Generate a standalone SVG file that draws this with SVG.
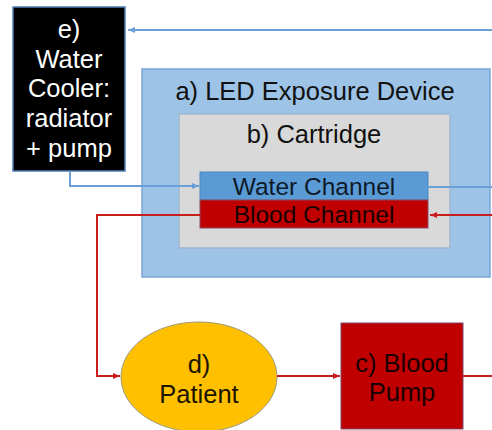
<svg xmlns="http://www.w3.org/2000/svg" width="492" height="430" viewBox="0 0 492 430">
<defs>
<style>
text{font-family:"Liberation Sans",Arial,sans-serif;text-anchor:middle}
.bl{stroke:#6a9fd8;stroke-width:2;fill:none}
.rd{stroke:#c81e1e;stroke-width:2;fill:none}
</style>
<marker id="ab" markerWidth="8" markerHeight="8" refX="7" refY="4" orient="auto" markerUnits="userSpaceOnUse"><path d="M0,1 L7,4 L0,7 z" fill="#6a9fd8"/></marker>
<marker id="ar" markerWidth="8" markerHeight="8" refX="7" refY="4" orient="auto" markerUnits="userSpaceOnUse"><path d="M0,1 L7,4 L0,7 z" fill="#c81e1e"/></marker>
</defs>
<rect width="492" height="430" fill="#fff"/>
<g id="led">
<rect x="142" y="69" width="348" height="208" fill="#9dc3e6" stroke="#7aa6d6" stroke-width="1.5"/>
<text x="315" y="100" font-size="25.5" fill="#111">a) LED Exposure Device</text>
</g>
<g id="cartridge">
<rect x="179" y="114" width="271" height="134" fill="#d9d9d9" stroke="#9fb6cf" stroke-width="1.5"/>
<text x="314" y="143" font-size="25.5" fill="#111">b) Cartridge</text>
</g>
<g id="water-channel">
<rect x="200" y="172" width="228" height="28" fill="#5b9bd5" stroke="#4f86bd" stroke-width="1"/>
<text x="314" y="195" font-size="24.5" fill="#0d1a2a">Water Channel</text>
</g>
<g id="blood-channel">
<rect x="200" y="200" width="228" height="28" fill="#c00000" stroke="#8a4a6a" stroke-width="1"/>
<text x="314" y="223" font-size="24.5" fill="#1a0000">Blood Channel</text>
</g>
<g id="water-cooler">
<rect x="13" y="7" width="112" height="164" fill="#000" stroke="#4f7fb8" stroke-width="1.5"/>
<text font-size="25.5" fill="#fff"><tspan x="69" y="38">e)</tspan><tspan x="69" y="68">Water</tspan><tspan x="69" y="97">Cooler:</tspan><tspan x="69" y="127">radiator</tspan><tspan x="69" y="157">+ pump</tspan></text>
</g>
<g id="patient">
<ellipse cx="199" cy="377" rx="78" ry="55" fill="#ffc000" stroke="#9a9a7a" stroke-width="1"/>
<text x="199" y="373" font-size="25.5" fill="#1a1400">d)</text>
<text x="199" y="403" font-size="25.5" fill="#1a1400">Patient</text>
</g>
<g id="blood-pump">
<rect x="341" y="323" width="122" height="106" fill="#c00000" stroke="#7a4a6a" stroke-width="1"/>
<text x="402" y="372" font-size="25.5" fill="#1a0000">c) Blood</text>
<text x="402" y="401" font-size="25.5" fill="#1a0000">Pump</text>
</g>
<g id="connectors">
<path class="bl" d="M492,30 H128" marker-end="url(#ab)"/>
<path class="bl" d="M70,171 V186 H199" marker-end="url(#ab)"/>
<path class="bl" d="M428,187 H492"/>
<path class="rd" d="M492,215 H430" marker-end="url(#ar)"/>
<path class="rd" d="M200,215 H97 V376 H120" marker-end="url(#ar)"/>
<path class="rd" d="M277,376 H340" marker-end="url(#ar)"/>
<path class="rd" d="M463,376 H492"/>
</g>
</svg>
